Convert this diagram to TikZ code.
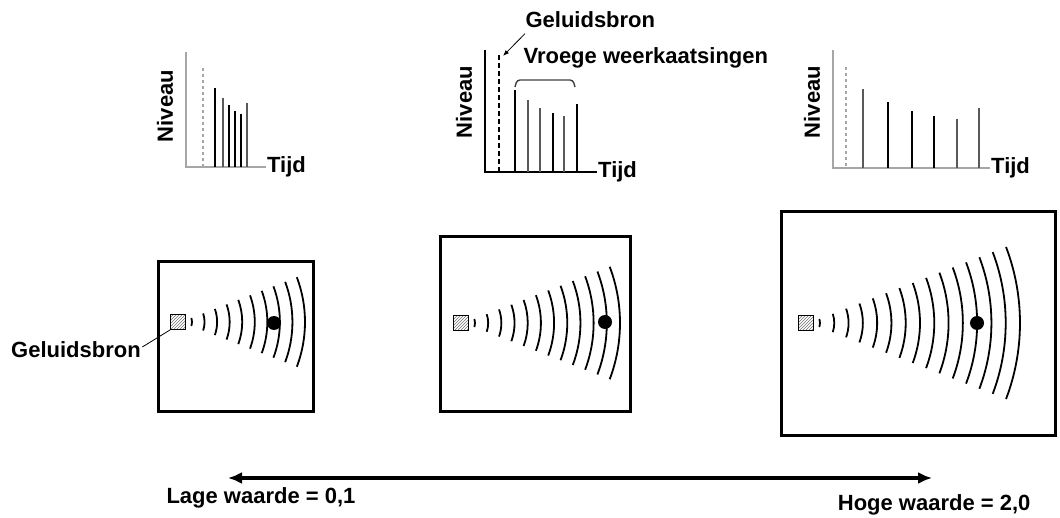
\documentclass[tikz,border=0pt]{standalone}
\usepackage{fontspec}
\setmainfont{Liberation Sans}
\usetikzlibrary{arrows.meta, positioning, calc, patterns}

\begin{document}
\begin{tikzpicture}[x=1pt, y=-1pt, every node/.style={font=\fontsize{22}{26}\selectfont\bfseries}]
	\tikzstyle{room}=[draw,line width=3pt,inner sep=0pt]
	\tikzstyle{src}=[draw,line width=0.8pt,minimum size=15pt,inner sep=0pt,fill=gray!35,pattern=north east lines,pattern color=gray!90!black]
	\tikzstyle{dot}=[circle,fill=black,minimum size=14pt,inner sep=0pt]
	\tikzstyle{axis}=[draw,gray!70,line width=1.6pt]
	\tikzstyle{hi}=[line width=2.8pt]
	\tikzstyle{lo}=[gray!70!black,line width=1.6pt]
	\useasboundingbox (0,0) rectangle (1060,518);
	% graphs
	\coordinate (o1) at (186,167);
	\coordinate (o2) at (485,172);
	\coordinate (o3) at (833,168);
	\draw[axis] (186,52) -- (o1) -- (266,167);
	\draw[axis,black] (485,50) -- (o2) -- (597,172);
	\draw[axis] (833,50) -- (o3) -- (990,168);
	\node[anchor=west,inner sep=1pt] (t1) at (266,167) {Tijd};
	\node[anchor=west,inner sep=1pt] (t2) at (597,172) {Tijd};
	\node[anchor=west,inner sep=1pt] (t3) at (990,168) {Tijd};
	\node[rotate=90] (n1) at (165,106) {Niveau};
	\node[rotate=90] (n2) at (464,102) {Niveau};
	\node[rotate=90] (n3) at (812,102) {Niveau};
	\draw[gray!70,line width=1.4pt,dashed] (203,68) -- (203,167);
	\draw[line width=2.8pt,dash pattern=on 5pt off 3pt] (499,55) -- (499,172);
	\draw[gray!70,line width=1.4pt,dashed] (846,67) -- (846,168);
	\foreach \x/\t/\s in {215/88/hi,223/98/lo,229/105/hi,235/111/hi,241/114/hi,247/103/lo}
		\draw[\s] (\x,\t) -- (\x,167);
	\foreach \x/\t/\s in {515/90/hi,528/100/lo,540/108/lo,553/113/hi,564/116/lo,577/104/hi}
		\draw[\s] (\x,\t) -- (\x,172);
	\foreach \x/\t/\s in {863/89/lo,888/102/hi,912/111/hi,934/116/hi,957/119/lo,979/108/lo}
		\draw[\s] (\x,\t) -- (\x,168);
	\node[anchor=west] (gb) at (522,20) {Geluidsbron};
	\node[anchor=west] (vw) at (520,58) {Vroege weerkaatsingen};
	\draw[-{Latex[length=6pt]},line width=0.8pt] (gb.south west) ++(3,2) -- (503,56);
	\draw[gray!50!black,line width=1.4pt,rounded corners=3pt] (515,87) -- (517,80) -- (573,80) -- (575,87);
	% rooms
	\node[room,minimum width=155pt,minimum height=149pt] (r1) at (235.5,336.5) {};
	\node[room,minimum width=190pt,minimum height=174pt] (r2) at (535,324) {};
	\node[room,minimum width=274pt,minimum height=223pt] (r3) at (918,323.5) {};
	\node[src] (s1) at (178,322) {};
	\node[src] (s2) at (461,323) {};
	\node[src] (s3) at (806,323) {};
	\node[dot] (d1) at (274,323) {};
	\node[dot] (d2) at (605,322) {};
	\node[dot] (d3) at (977,323) {};
	\foreach \s/\rmax/\n in {s1/127/10,s2/159/12,s3/214/15}{
		\foreach \i in {1,...,\n}{
			\pgfmathsetmacro\r{14+(\rmax-14)*(\i-1)/(\n-1)}
			\pgfmathsetmacro\a{asin(min(0.5,(0.36*\r-1)/\r))}
			\draw[line width=1.8pt] ($(\s)+({\r*cos(\a)},{\r*sin(\a)})$) arc[start angle=\a, end angle=-\a, radius=\r];
		}
	}
	\node (lb) at (76,350) {Geluidsbron};
	\draw[line width=0.8pt] (lb.east) ++(-2,-3) -- (s1.south west);
	% scale
	\coordinate (al) at (228,478);
	\coordinate (ar) at (932,478);
	\draw[{Latex[length=14pt,width=12pt]}-{Latex[length=14pt,width=12pt]},line width=3.5pt] (al) -- (ar);
	\node[anchor=west] (lo) at (163,498) {Lage waarde = 0,1};
	\node[anchor=east] (ho) at (1034,505) {Hoge waarde = 2,0};
\end{tikzpicture}
\end{document}
